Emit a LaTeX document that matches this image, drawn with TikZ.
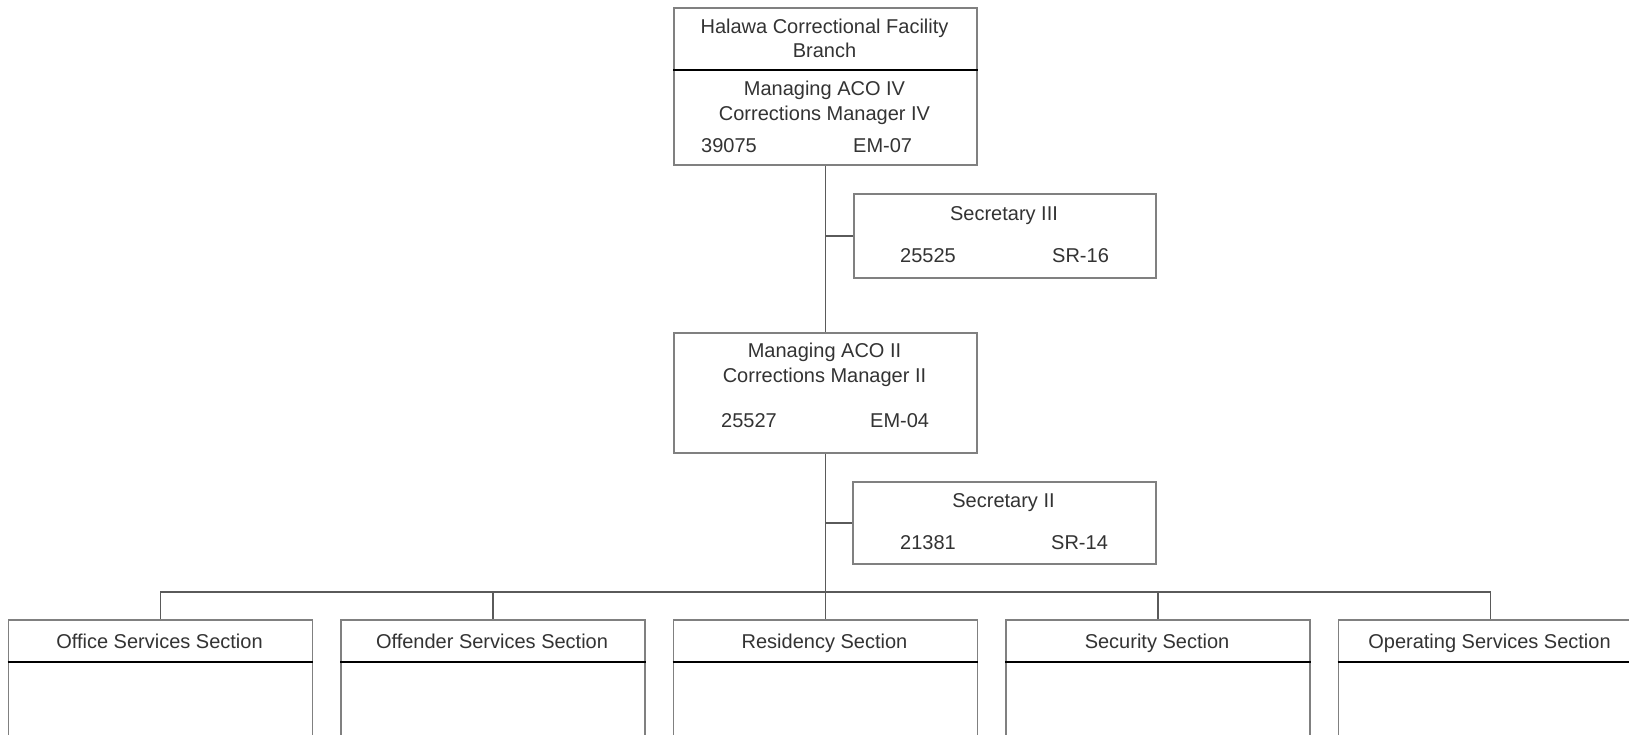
\documentclass[tikz,border=0pt]{standalone}
\usepackage{fontspec}
\setmainfont{Liberation Sans}
\definecolor{boxgray}{HTML}{808080}
\definecolor{linegray}{HTML}{5A5A5A}
\definecolor{txtgray}{HTML}{333333}
\begin{document}
\begin{tikzpicture}[x=1pt,y=-1pt,
  box/.style={draw=boxgray,line width=1.6pt,fill=white,rectangle,inner sep=0pt,anchor=north west},
  lbl/.style={inner sep=0pt,anchor=base,text=txtgray,font=\fontsize{20}{25}\selectfont},
  lblw/.style={lbl,anchor=base west},
  conn/.style={draw=linegray,line width=1.6pt},
  divider/.style={draw=black,line width=2pt}]
\useasboundingbox (0,0) rectangle (1629,734);
\clip (0,0) rectangle (1629,734);
% boxes
\node[box,minimum width=303pt,minimum height=157pt] (top) at (673,7) {};
\node[box,minimum width=302pt,minimum height=84pt] (sec3) at (853,193) {};
\node[box,minimum width=303pt,minimum height=120pt] (mgr) at (673,332) {};
\node[box,minimum width=303pt,minimum height=82pt] (sec2) at (852,481) {};
\node[box,minimum width=304pt,minimum height=150pt] (office) at (7.5,619) {};
\node[box,minimum width=304pt,minimum height=150pt] (offender) at (340,619) {};
\node[box,minimum width=304pt,minimum height=150pt] (resid) at (672.5,619) {};
\node[box,minimum width=304pt,minimum height=150pt] (secur) at (1005,619) {};
\node[box,minimum width=304pt,minimum height=150pt] (oper) at (1337.5,619) {};
% dividers
\draw[divider] (top.west |- 0,70) -- (top.east |- 0,70);
\foreach \b in {office,offender,resid,secur,oper}{
  \draw[divider] (\b.west |- 0,662) -- (\b.east |- 0,662);
}
% texts (baseline = visual centre + 7)
\node[lbl] (t1) at (824.5,33) {Halawa Correctional Facility};
\node[lbl] (t2) at (824.5,57) {Branch};
\node[lbl] (t3) at (824.5,95) {Managing ACO IV};
\node[lbl] (t4) at (824.5,120) {Corrections Manager IV};
\node[lblw] (t5) at (701,152) {39075};
\node[lblw] (t6) at (853,152) {EM-07};
\node[lbl] (s31) at (1004,220) {Secretary III};
\node[lblw] (s32) at (900,262) {25525};
\node[lblw] (s33) at (1052,262) {SR-16};
\node[lbl] (m1) at (824.5,357) {Managing ACO II};
\node[lbl] (m2) at (824.5,382) {Corrections Manager II};
\node[lblw] (m3) at (721,427) {25527};
\node[lblw] (m4) at (870,427) {EM-04};
\node[lbl] (s21) at (1003.5,507) {Secretary II};
\node[lblw] (s22) at (900,549) {21381};
\node[lblw] (s23) at (1051,549) {SR-14};
\node[lbl] (b1) at (159.5,648) {Office Services Section};
\node[lbl] (b2) at (492,648) {Offender Services Section};
\node[lbl] (b3) at (824.5,648) {Residency Section};
\node[lbl] (b4) at (1157,648) {Security Section};
\node[lbl] (b5) at (1489.5,648) {Operating Services Section};
% connectors
\coordinate (bus) at (824.5,592);
\draw[conn] (top.south) -- (mgr.north);
\draw[conn] (mgr.south) -- (resid.north);
\draw[conn] (sec3.west) -- (sec3.west -| top.south);
\draw[conn] (sec2.west) -- (sec2.west -| mgr.south);
\draw[conn] (office.north) |- (bus) -| (oper.north);
\draw[conn] (offender.north) -- (offender.north |- bus);
\draw[conn] (secur.north) -- (secur.north |- bus);
\end{tikzpicture}
\end{document}
